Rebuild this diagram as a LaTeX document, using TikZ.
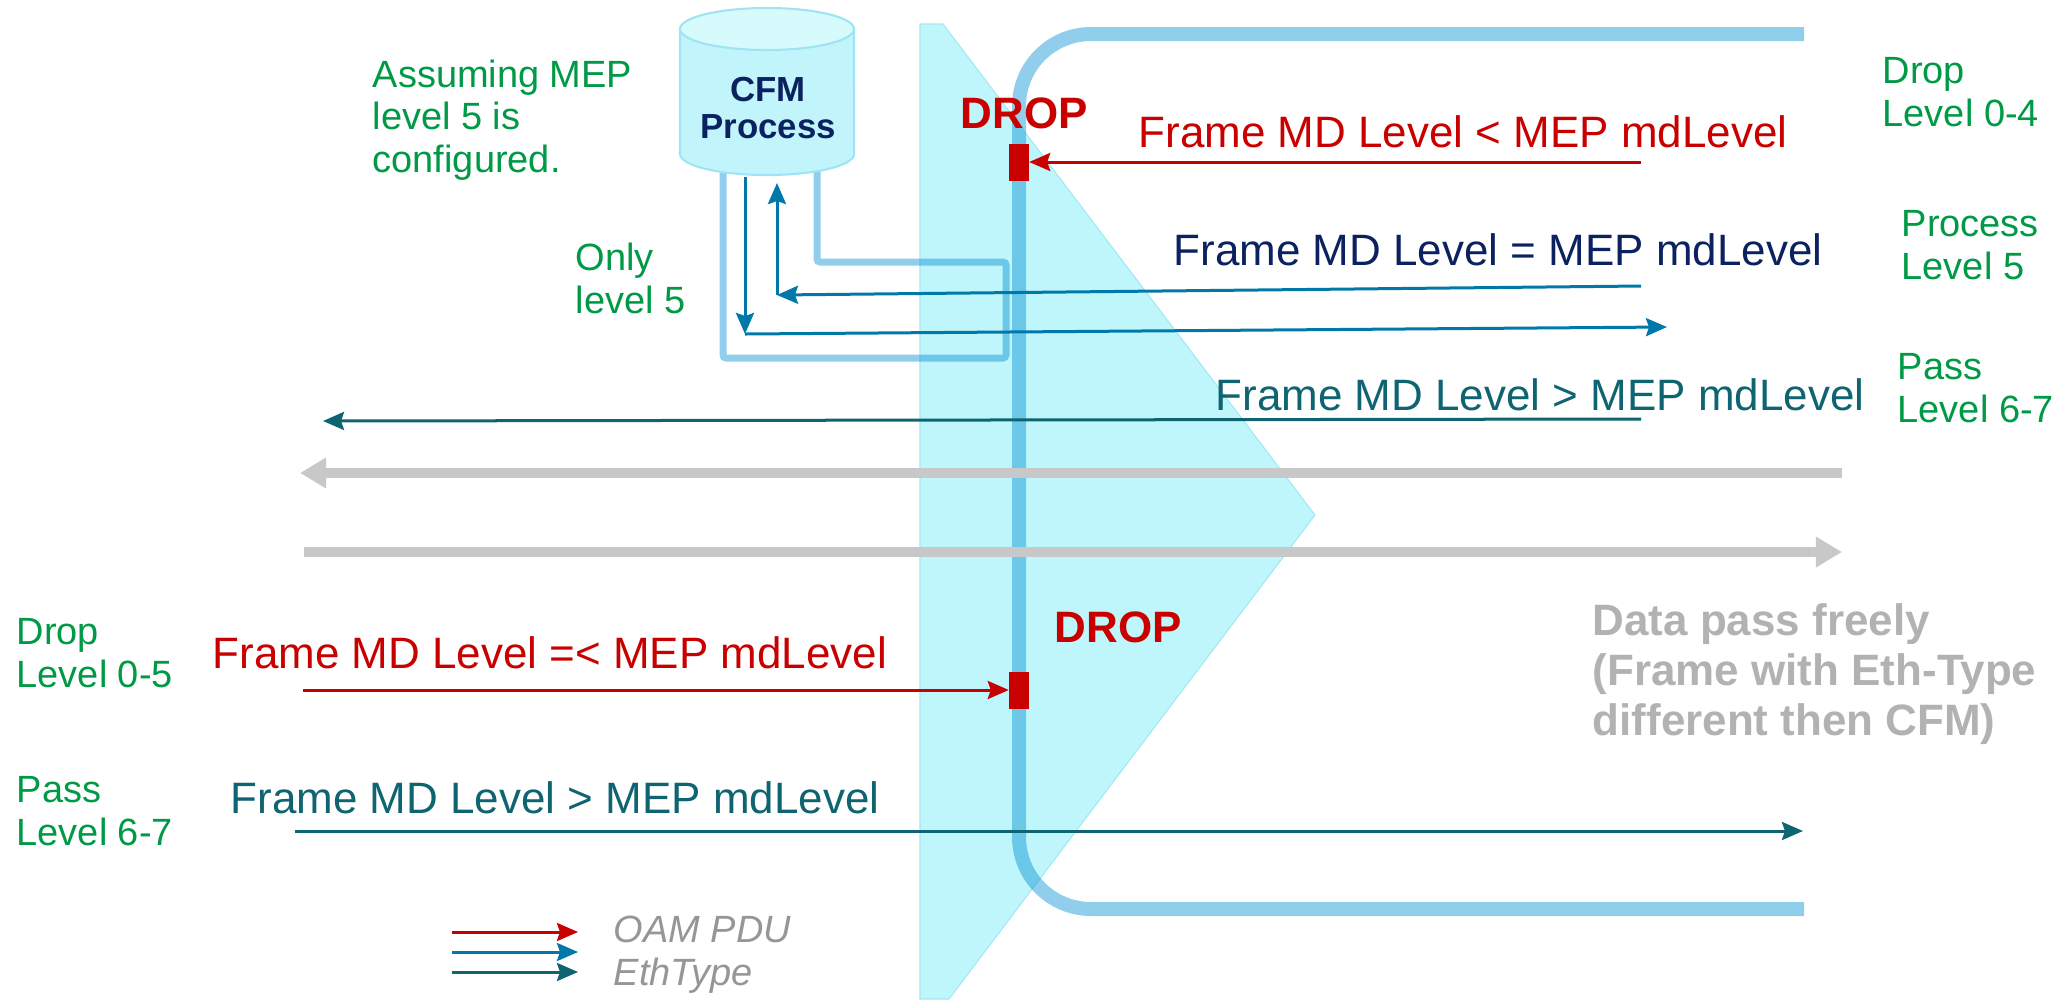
\documentclass[tikz,border=0pt]{standalone}
\usepackage{fontspec}
\setmainfont{Liberation Sans}
\usetikzlibrary{arrows.meta}

\definecolor{oamred}{RGB}{200,0,0}
\definecolor{oamblue}{RGB}{0,121,168}
\definecolor{ethteal}{RGB}{14,100,112}
\definecolor{navy}{RGB}{12,34,96}
\definecolor{lvlgreen}{RGB}{0,154,70}
\definecolor{pipeblue}{RGB}{8,146,211}
\definecolor{zone}{RGB}{191,246,252}
\definecolor{zoneline}{RGB}{160,232,246}
\definecolor{cylfill}{RGB}{194,245,251}
\definecolor{cyltop}{RGB}{215,250,253}
\definecolor{cylline}{RGB}{160,228,244}
\definecolor{databar}{RGB}{200,200,200}
\definecolor{datatext}{RGB}{178,178,178}
\definecolor{keytext}{RGB}{150,150,150}

\tikzset{
  cond/.style={inner sep=0, font=\fontsize{12.5}{15}\selectfont},
  lvl/.style={inner sep=0, align=left, text=lvlgreen, font=\fontsize{10.8}{12}\selectfont},
  dropmark/.style={inner sep=0, text=oamred, font=\bfseries\fontsize{12.5}{15}\selectfont},
  redblk/.style={fill=oamred, inner sep=0, minimum width=0.19cm, minimum height=0.37cm},
  pdu/.style={line width=0.03cm, -{Stealth[length=0.21cm, width=0.18cm, inset=0.03cm]}},
  databus/.style={line width=0.1cm, databar, -{Triangle[length=0.26cm, width=0.29cm]}},
  pipe/.style={line width=0.14cm, pipeblue, opacity=0.45},
}

\begin{document}
\begin{tikzpicture}[x=0.01cm, y=-0.01cm]
\useasboundingbox (0,0) rectangle (2071,999);

% MEP zone
\filldraw[fill=zone, draw=zoneline, line width=0.3pt] (920,24) -- (943,24) -- (1315,515) -- (949,999) -- (920,999) -- cycle;

% path through the MEP and the loop to the CFM process
\draw[pipe, rounded corners=0.72cm] (1804,34) -- (1019,34) -- (1019,909) -- (1804,909);
\draw[pipe, line width=0.07cm, rounded corners=0.03cm] (817,170) -- (817,262) -- (1006,262) -- (1006,358) -- (723,358) -- (723,170);

% CFM process
\fill[cylfill] (680,29) -- (680,154) arc[start angle=180, end angle=360, x radius=0.87cm, y radius=0.21cm] -- (854,29) -- cycle;
\draw[cylline, line width=0.6pt] (680,29) -- (680,154) arc[start angle=180, end angle=360, x radius=0.87cm, y radius=0.21cm] -- (854,29);
\filldraw[fill=cyltop, draw=cylline, line width=0.6pt] (767,29) ellipse[x radius=0.87cm, y radius=0.21cm];
\node[inner sep=0, align=center, text=navy, font=\bfseries\fontsize{9.9}{10.8}\selectfont] (cfm) at (768,108) {CFM\\Process};

% data frames
\coordinate (g1) at (1842,473); \coordinate (g1e) at (300,473);
\coordinate (g2) at (304,552); \coordinate (g2e) at (1842,552);
\draw[databus] (g1) -- (g1e);
\draw[databus] (g2) -- (g2e);

% drop points
\node[redblk] (blk1) at (1019,162) {};
\node[redblk] (blk2) at (1019,690) {};

% OAM frames
\coordinate (r1) at (1641,162);
\coordinate (r2) at (303,690);
\draw[pdu, oamred] (r1) -- (blk1.east);
\draw[pdu, oamred] (r2) -- (blk2.west);

\coordinate (b1) at (1641,286); \coordinate (b1c) at (777,295); \coordinate (b1t) at (777,183);
\draw[pdu, oamblue] (b1) -- (b1c);
\draw[pdu, oamblue] (b1c) -- (b1t);
\coordinate (b2t) at (745,177); \coordinate (b2c) at (745,334); \coordinate (b2) at (1667,327);
\draw[pdu, oamblue] (b2t) -- (b2c);
\draw[pdu, oamblue] (b2c) -- (b2);

\coordinate (t1) at (1641,419); \coordinate (t1e) at (323,421);
\coordinate (t2) at (295,831); \coordinate (t2e) at (1803,831);
\draw[pdu, ethteal] (t1) -- (t1e);
\draw[pdu, ethteal] (t2) -- (t2e);

% conditions
\node[cond, text=oamred, anchor=base east] (lt) at (1788,147) {Frame MD Level < MEP mdLevel};
\node[cond, text=navy, anchor=base east] (eq) at (1823,265) {Frame MD Level = MEP mdLevel};
\node[cond, text=ethteal, anchor=base east] (gt) at (1865,410) {Frame MD Level > MEP mdLevel};
\node[cond, text=oamred, anchor=base west] (le) at (212,668) {Frame MD Level =< MEP mdLevel};
\node[cond, text=ethteal, anchor=base west] (gtb) at (230,813) {Frame MD Level > MEP mdLevel};

\node[dropmark, anchor=base west] (d1) at (960,128) {DROP};
\node[dropmark, anchor=base west] (d2) at (1054,642) {DROP};

% levels (base = last line)
\node[lvl, anchor=base west] (asm) at (372,172) {Assuming MEP\\level 5 is\\configured.};
\node[lvl, anchor=base west] (only) at (575,313) {Only\\level 5};
\node[lvl, anchor=base west] (l04) at (1882,126) {Drop\\Level 0-4};
\node[lvl, anchor=base west] (l5) at (1901,279) {Process\\Level 5};
\node[lvl, anchor=base west] (l67) at (1897,422) {Pass\\Level 6-7};
\node[lvl, anchor=base west] (l05) at (16,687) {Drop\\Level 0-5};
\node[lvl, anchor=base west] (l67b) at (16,845) {Pass\\Level 6-7};

\node[inner sep=0, align=left, anchor=base west, text=datatext, font=\bfseries\fontsize{12.5}{14.2}\selectfont] (free) at (1592,735) {Data pass freely\\(Frame with Eth-Type\\different then CFM)};

% legend
\foreach \y/\c in {932/oamred, 952/oamblue, 972/ethteal}
  \draw[pdu, \c] (452,\y) -- (578,\y);
\node[inner sep=0, align=left, anchor=base west, text=keytext, font=\itshape\fontsize{10.8}{12}\selectfont] (key) at (613,985) {OAM PDU\\EthType};
\end{tikzpicture}
\end{document}
